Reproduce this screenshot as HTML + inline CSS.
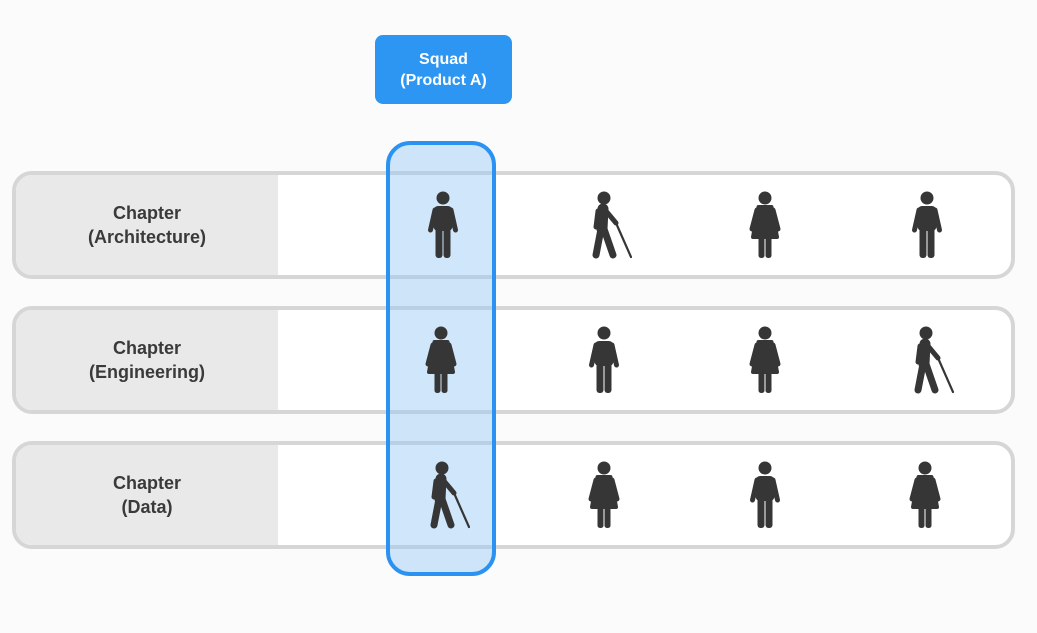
<!DOCTYPE html>
<html><head><meta charset="utf-8"><style>
body{margin:0;width:1037px;height:633px;background:#fbfbfb;position:relative;overflow:hidden;font-family:"Liberation Sans",sans-serif}
.row{position:absolute;left:12px;width:1003px;height:108px;box-sizing:border-box;border:4px solid #d6d6d6;border-radius:20px;background:#fff;overflow:hidden}
.lab{position:absolute;left:0;top:0;bottom:0;width:262px;background:#e9e9e9;display:flex;align-items:center;justify-content:center;text-align:center;font-weight:bold;font-size:18px;line-height:24px;color:#3a3a3a}
.squad{position:absolute;left:386px;top:141px;width:110px;height:435px;box-sizing:border-box;border:4px solid #2b92f2;border-radius:24px;background:rgba(150,200,245,0.45)}
.sq{position:absolute;left:375px;top:35px;width:137px;height:69px;background:#2d96f3;border-radius:8px;color:#fff;font-weight:bold;font-size:16px;line-height:21px;display:flex;align-items:center;justify-content:center;text-align:center}
svg.i{position:absolute;width:44px;height:68px}
</style></head><body>
<svg width="0" height="0" style="position:absolute">
<defs>
<symbol id="m" viewBox="0 0 44 68"><g fill="#363636" stroke="#363636" stroke-linecap="round"><circle cx="22" cy="7" r="6.5" stroke="none"/><rect x="12.5" y="15" width="19" height="25" rx="4.5" stroke="none"/><line x1="14" y1="19" x2="9.5" y2="39" stroke-width="5"/><line x1="30" y1="19" x2="34.5" y2="39" stroke-width="5"/><rect x="14.5" y="36" width="7" height="31" rx="3" stroke="none"/><rect x="22.5" y="36" width="7" height="31" rx="3" stroke="none"/></g></symbol>
<symbol id="w" viewBox="0 0 44 68"><g fill="#363636" stroke="#363636" stroke-linecap="round" stroke-linejoin="round"><circle cx="22" cy="7" r="6.5" stroke="none"/><polygon points="15.5,16 28.5,16 34,46 10,46" stroke-width="4"/><line x1="14" y1="19" x2="9" y2="38" stroke-width="5"/><line x1="30" y1="19" x2="35" y2="38" stroke-width="5"/><rect x="15.5" y="44" width="6" height="23" rx="2.5" stroke="none"/><rect x="22.5" y="44" width="6" height="23" rx="2.5" stroke="none"/></g></symbol>
<symbol id="b" viewBox="0 0 44 68"><g fill="none" stroke="#363636" stroke-linecap="round" stroke-linejoin="round"><circle cx="16" cy="7" r="6.5" fill="#363636" stroke="none"/><path d="M15,18 L14,38" stroke-width="11"/><path d="M13,38 L8,64" stroke-width="7"/><path d="M16,38 L25,64" stroke-width="7"/><path d="M10,20 L8,36" stroke-width="5"/><path d="M18,20 L28,32" stroke-width="5"/><path d="M28,32 L43,66" stroke-width="2.2"/></g></symbol>
</defs></svg>
<div class="sq">Squad<br>(Product A)</div>
<div class="row" style="top:171px"><div class="lab">Chapter<br>(Architecture)</div></div>
<div class="row" style="top:306px"><div class="lab">Chapter<br>(Engineering)</div></div>
<div class="row" style="top:441px"><div class="lab">Chapter<br>(Data)</div></div>
<div class="squad"></div>
<svg class="i" style="left:421px;top:191px"><use href="#m"/></svg>
<svg class="i" style="left:588px;top:191px"><use href="#b"/></svg>
<svg class="i" style="left:743px;top:191px"><use href="#w"/></svg>
<svg class="i" style="left:905px;top:191px"><use href="#m"/></svg>
<svg class="i" style="left:419px;top:326px"><use href="#w"/></svg>
<svg class="i" style="left:582px;top:326px"><use href="#m"/></svg>
<svg class="i" style="left:743px;top:326px"><use href="#w"/></svg>
<svg class="i" style="left:910px;top:326px"><use href="#b"/></svg>
<svg class="i" style="left:426px;top:461px"><use href="#b"/></svg>
<svg class="i" style="left:582px;top:461px"><use href="#w"/></svg>
<svg class="i" style="left:743px;top:461px"><use href="#m"/></svg>
<svg class="i" style="left:903px;top:461px"><use href="#w"/></svg>
</body></html>
